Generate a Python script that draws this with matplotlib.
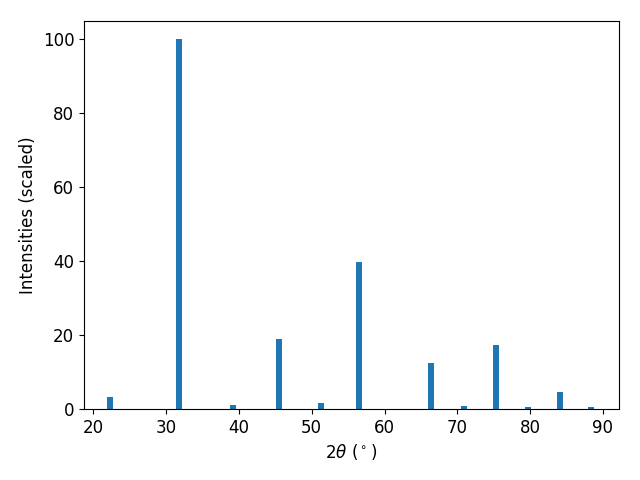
import matplotlib
matplotlib.use("Agg")
import matplotlib.pyplot as plt

two_theta = [22.29, 31.74, 39.14, 45.51, 51.27, 56.54, 66.32, 70.92, 75.36, 79.75, 84.09, 88.35]
intensities = [3.3, 100.0, 1.1, 19.0, 1.6, 39.8, 12.5, 0.9, 17.4, 0.55, 4.6, 0.55]

fig, ax = plt.subplots(figsize=(6.4, 4.8), dpi=100)
ax.bar(two_theta, intensities, width=0.82, color="#1f77b4")
ax.set_xlim(18.73, 92.2)
ax.set_xlabel(r"$2\theta$ ($^\circ$)", fontsize=12)
ax.set_ylabel("Intensities (scaled)", fontsize=12)
ax.tick_params(labelsize=12)
fig.subplots_adjust(left=84/640, right=619/640, top=1-21/480, bottom=1-409/480)
fig.savefig("out.png", dpi=100)
